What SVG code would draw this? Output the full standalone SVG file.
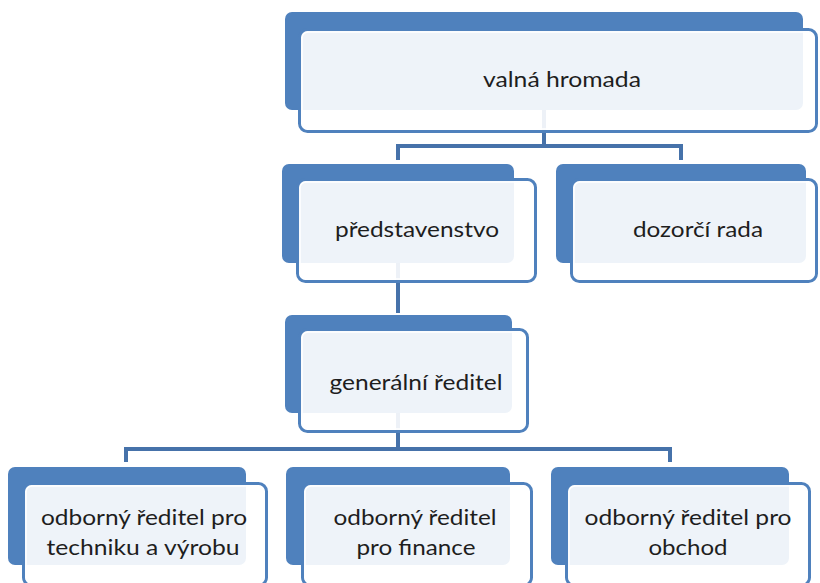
<svg xmlns="http://www.w3.org/2000/svg" width="820" height="583" viewBox="0 0 820 583">
<style>
.back{fill:#4F81BD}
.front{fill:#FFFFFF;fill-opacity:0.9;stroke:#4F81BD;stroke-width:3}
.inner{fill:none;stroke:#FFFFFF;stroke-width:1.5}
.conn{fill:none;stroke:#4672AA;stroke-width:4}
text{font-family:Lato,"Open Sans","Liberation Sans",sans-serif;font-size:21px;fill:#1E1E1E;text-anchor:middle}
</style>
<rect width="820" height="583" fill="#FFFFFF"/>
<g id="connectors">
<path class="conn" d="M544 110 V146 M398 160 V146 H681 V160"/>
<path class="conn" d="M398 263 V313"/>
<path class="conn" d="M398 413 V449 M126 462 V449 H670 V462"/>
</g>
<g id="valna-hromada">
<rect class="back" x="285" y="12" width="518" height="98" rx="7"/>
<rect class="front" x="299.5" y="29.5" width="517" height="102" rx="8"/>
<rect class="inner" x="302" y="32" width="512" height="97" rx="6"/>
<text x="562" y="87" textLength="158" lengthAdjust="spacingAndGlyphs">valná hromada</text>
</g>
<g id="predstavenstvo">
<rect class="back" x="282" y="164" width="232" height="99" rx="7"/>
<rect class="front" x="297.5" y="179.5" width="238" height="102" rx="8"/>
<rect class="inner" x="300" y="182" width="233" height="97" rx="6"/>
<text x="417" y="237" textLength="164" lengthAdjust="spacingAndGlyphs">představenstvo</text>
</g>
<g id="dozorci-rada">
<rect class="back" x="556" y="164" width="250" height="99" rx="7"/>
<rect class="front" x="571.5" y="179.5" width="245" height="102" rx="8"/>
<rect class="inner" x="574" y="182" width="240" height="97" rx="6"/>
<text x="698" y="237" textLength="130" lengthAdjust="spacingAndGlyphs">dozorčí rada</text>
</g>
<g id="generalni-reditel">
<rect class="back" x="285" y="315" width="227" height="98" rx="7"/>
<rect class="front" x="299.5" y="329.5" width="228" height="102" rx="8"/>
<rect class="inner" x="302" y="332" width="223" height="97" rx="6"/>
<text x="416" y="390" textLength="173" lengthAdjust="spacingAndGlyphs">generální ředitel</text>
</g>
<g id="reditel-technika">
<rect class="back" x="8" y="467" width="238" height="98" rx="7"/>
<rect class="front" x="23.5" y="483.5" width="243" height="102" rx="8"/>
<rect class="inner" x="26" y="486" width="238" height="97" rx="6"/>
<text x="144" y="525" textLength="206" lengthAdjust="spacingAndGlyphs">odborný ředitel pro</text>
<text x="143" y="555" textLength="193" lengthAdjust="spacingAndGlyphs">techniku a výrobu</text>
</g>
<g id="reditel-finance">
<rect class="back" x="286" y="467" width="224" height="98" rx="7"/>
<rect class="front" x="302.5" y="483.5" width="229" height="102" rx="8"/>
<rect class="inner" x="305" y="486" width="224" height="97" rx="6"/>
<text x="415" y="525" textLength="163" lengthAdjust="spacingAndGlyphs">odborný ředitel</text>
<text x="416" y="555" textLength="119" lengthAdjust="spacingAndGlyphs">pro finance</text>
</g>
<g id="reditel-obchod">
<rect class="back" x="551" y="467" width="238" height="98" rx="7"/>
<rect class="front" x="566.5" y="483.5" width="243" height="102" rx="8"/>
<rect class="inner" x="569" y="486" width="238" height="97" rx="6"/>
<text x="688" y="525" textLength="207" lengthAdjust="spacingAndGlyphs">odborný ředitel pro</text>
<text x="688" y="555" textLength="79" lengthAdjust="spacingAndGlyphs">obchod</text>
</g>
</svg>
